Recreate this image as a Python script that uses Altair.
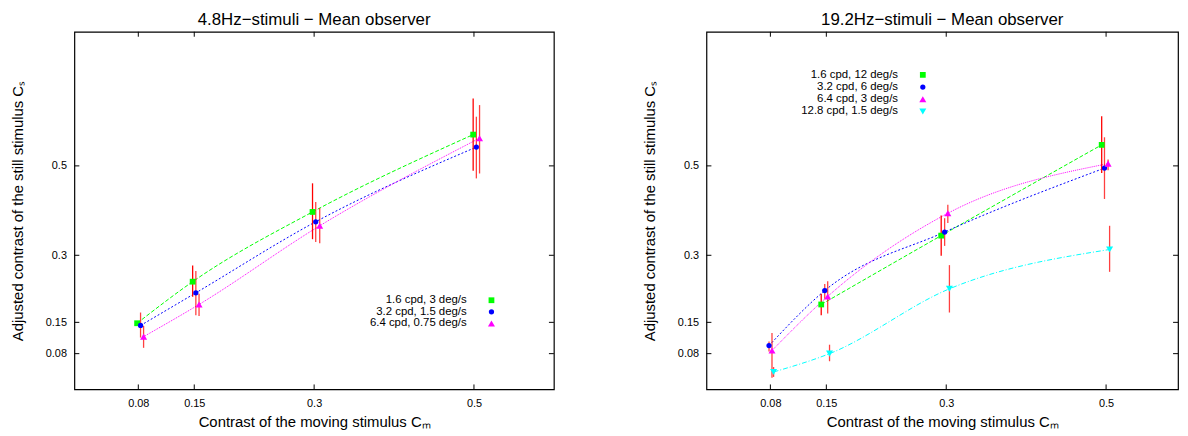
import altair as alt
import pandas as pd

FONT = "Liberation Sans"
TICKS = [0.08, 0.15, 0.3, 0.5]

# ---------------- Left panel: 4.8 Hz ----------------
L_title = "4.8Hz\u2212stimuli \u2212 Mean observer"
L_labels = ["1.6 cpd, 3 deg/s", "3.2 cpd, 1.5 deg/s", "6.4 cpd, 0.75 deg/s"]
L_x = [
    [0.0785, 0.148, 0.298, 0.499],
    [0.0828, 0.152, 0.302, 0.503],
    [0.0866, 0.156, 0.307, 0.507],
]
L_y = [
    [0.148, 0.241, 0.397, 0.570],
    [0.143, 0.216, 0.375, 0.542],
    [0.118, 0.190, 0.366, 0.562],
]
L_lo = [
    [0.143, 0.207, 0.336, 0.489],
    [0.116, 0.166, 0.330, 0.472],
    [0.093, 0.164, 0.327, 0.483],
]
L_hi = [
    [0.153, 0.277, 0.461, 0.651],
    [0.172, 0.265, 0.419, 0.610],
    [0.142, 0.214, 0.406, 0.636],
]

# ---------------- Right panel: 19.2 Hz ----------------
R_title = "19.2Hz\u2212stimuli \u2212 Mean observer"
R_labels = ["1.6 cpd, 12 deg/s", "3.2 cpd, 6 deg/s", "6.4 cpd, 3 deg/s", "12.8 cpd, 1.5 deg/s"]
R_x = [
    [0.1436, 0.2937, 0.4945],
    [0.0783, 0.148, 0.298, 0.498],
    [0.082, 0.1517, 0.302, 0.5025],
    [0.084, 0.154, 0.304, 0.5044],
]
R_y = [
    [0.190, 0.344, 0.547],
    [0.098, 0.221, 0.352, 0.495],
    [0.087, 0.208, 0.394, 0.505],
    [0.039, 0.080, 0.225, 0.313],
]
R_lo = [
    [0.166, 0.299, 0.484],
    [0.085, 0.203, 0.321, 0.426],
    [0.026, 0.170, 0.372, 0.490],
    [0.028, 0.063, 0.172, 0.263],
]
R_hi = [
    [0.214, 0.389, 0.611],
    [0.107, 0.236, 0.383, 0.564],
    [0.126, 0.242, 0.413, 0.514],
    [0.050, 0.100, 0.278, 0.366],
]

COLORS = ["#00ff00", "#0000ff", "#ff00ff", "#00ffff"]
SHAPES = ["square", "circle", "triangle-up", "triangle-down"]
SIZES = [34, 28, 50, 50]
DASHES = [[4, 2], [2, 2], [1, 1], [5, 2, 1, 2]]

H = 361


def panel(title, labels, xs, ys, los, his, width, xmax, leg_x, leg_y, leg_dy):
    xs_ = alt.Scale(domain=[0, xmax], nice=False, zero=False)
    ys_ = alt.Scale(domain=[0, 0.8], nice=False, zero=False)
    xaxis = alt.Axis(values=TICKS, format=".2~f", title="Contrast of the moving stimulus C\u2098")
    yaxis = alt.Axis(values=TICKS, format=".2~f", title="Adjusted contrast of the still stimulus C\u209b")

    layers = []
    bar_layers = []
    pt_layers = []
    for i, (lab, xx, yy, lo, hi) in enumerate(zip(labels, xs, ys, los, his)):
        df = pd.DataFrame({"x": xx, "y": yy, "lo": lo, "hi": hi})
        base = alt.Chart(df)
        layers.append(
            base.mark_line(strokeWidth=1, interpolate="monotone", color=COLORS[i],
                           strokeDash=DASHES[i]).encode(
                x=alt.X("x:Q", scale=xs_, axis=xaxis),
                y=alt.Y("y:Q", scale=ys_, axis=yaxis),
            )
        )
        bar_layers.append(
            base.mark_rule(color="#ff0000", strokeWidth=1.3, opacity=1 if i == 0 else 0.75).encode(
                x=alt.X("x:Q", scale=xs_, axis=xaxis),
                y=alt.Y("lo:Q", scale=ys_, axis=yaxis),
                y2="hi:Q",
            )
        )
        pt_layers.append(
            base.mark_point(filled=True, opacity=1, shape=SHAPES[i], color=COLORS[i],
                            size=SIZES[i]).encode(
                x=alt.X("x:Q", scale=xs_, axis=xaxis),
                y=alt.Y("y:Q", scale=ys_, axis=yaxis),
            )
        )
        # legend entry
        ldf = pd.DataFrame({"s": [lab]})
        lb = alt.Chart(ldf)
        pt_layers.append(
            lb.mark_text(align="right", baseline="middle", font=FONT, fontSize=11.5, color="black").encode(
                text="s:N", x=alt.value(leg_x - 25), y=alt.value(leg_y + i * leg_dy),
            )
        )
        pt_layers.append(
            lb.mark_point(filled=True, opacity=1, shape=SHAPES[i], color=COLORS[i], size=SIZES[i]).encode(
                x=alt.value(leg_x), y=alt.value(leg_y + i * leg_dy),
            )
        )

    tdf = pd.DataFrame({"t": TICKS})
    tb = alt.Chart(tdf)
    ticks = [
        tb.mark_rule(color="black").encode(x=alt.X("t:Q", scale=xs_, axis=xaxis), y=alt.value(H), y2=alt.value(H - 5)),
        tb.mark_rule(color="black").encode(x=alt.X("t:Q", scale=xs_, axis=xaxis), y=alt.value(0), y2=alt.value(5)),
        tb.mark_rule(color="black").encode(y=alt.Y("t:Q", scale=ys_, axis=yaxis), x=alt.value(0), x2=alt.value(5)),
        tb.mark_rule(color="black").encode(y=alt.Y("t:Q", scale=ys_, axis=yaxis), x=alt.value(width - 5), x2=alt.value(width)),
    ]
    return alt.layer(*layers, *bar_layers, *pt_layers, *ticks).properties(
        width=width, height=H,
        title=alt.TitleParams(title, font=FONT, fontSize=17, fontWeight="normal",
                              anchor="middle", color="black", offset=2),
    )


left = panel(L_title, L_labels, L_x, L_y, L_lo, L_hi, 484, 0.6, 421, 271, 11.7)
right = panel(R_title, R_labels, R_x, R_y, R_lo, R_hi, 476, 0.59, 218.4, 43.5, 12.3)

chart = alt.hconcat(left, right, spacing=86).resolve_scale(
    x="independent", y="independent",
).properties(
    padding={"left": 1, "top": 0, "right": 0, "bottom": 0},
).configure_view(stroke="black", strokeWidth=1.2).configure_axis(
    grid=False, ticks=False, domain=False, labelFont=FONT, labelFontSize=11,
    labelColor="black", titleFont=FONT, titleFontSize=15, titleFontWeight="normal",
    titleColor="black", labelPadding=8,
).configure_axisX(titlePadding=6).configure_axisY(titlePadding=20)

chart.save("out.html", embed_options={"renderer": "svg", "actions": False})
